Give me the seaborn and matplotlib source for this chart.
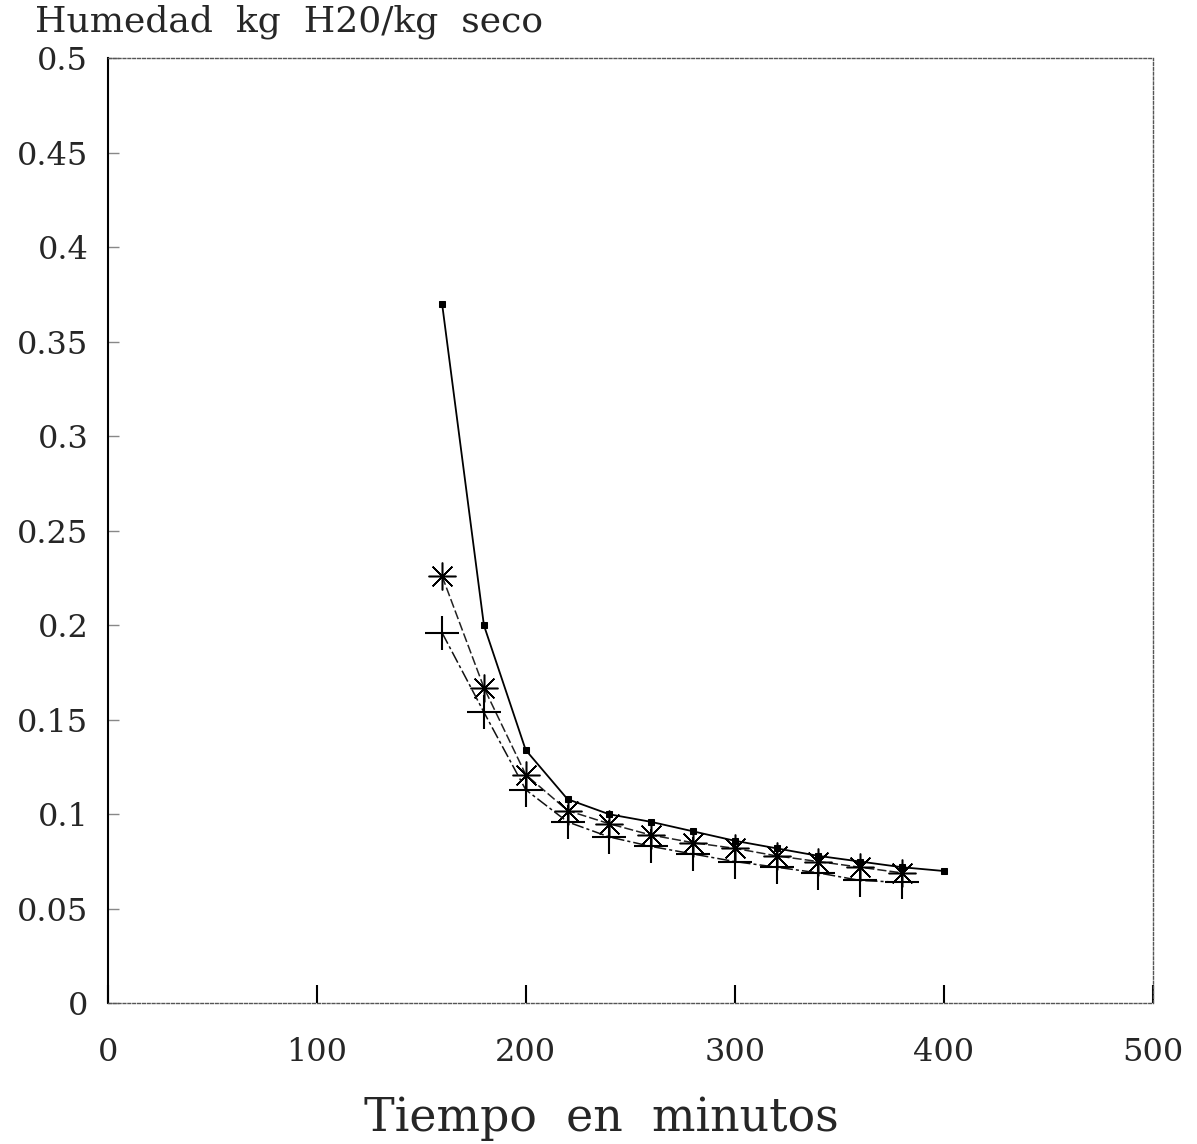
import matplotlib
matplotlib.use("Agg")
import matplotlib.pyplot as plt
import seaborn as sns

# Drying curves
tiempo_a = [160, 180, 200, 220, 240, 260, 280, 300, 320, 340, 360, 380, 400]
humedad_a = [0.370, 0.200, 0.134, 0.108, 0.100, 0.096, 0.091, 0.086, 0.082, 0.078, 0.075, 0.072, 0.070]

tiempo_b = [160, 180, 200, 220, 240, 260, 280, 300, 320, 340, 360, 380]
humedad_b = [0.226, 0.167, 0.121, 0.102, 0.095, 0.089, 0.085, 0.082, 0.078, 0.075, 0.072, 0.069]

tiempo_c = [160, 180, 200, 220, 240, 260, 280, 300, 320, 340, 360, 380]
humedad_c = [0.196, 0.154, 0.113, 0.096, 0.088, 0.083, 0.079, 0.075, 0.072, 0.069, 0.065, 0.064]

x_ticks = [0, 100, 200, 300, 400, 500]
y_ticks = [0, 0.05, 0.1, 0.15, 0.2, 0.25, 0.3, 0.35, 0.4, 0.45, 0.5]
y_ticklabels = ["0", "0.05", "0.1", "0.15", "0.2", "0.25", "0.3", "0.35", "0.4", "0.45", "0.5"]

sns.set_theme(style="white")
plt.rcParams["font.family"] = ["DejaVu Serif"]

fig = plt.figure(figsize=(11.97, 11.44), dpi=100)
ax = fig.add_axes([0.090, 0.123, 0.873, 0.826])

# square markers, solid line
sns.lineplot(x=tiempo_a, y=humedad_a, ax=ax, color="black", linewidth=1.3,
             marker="s", markersize=5, markeredgecolor="black")
# asterisks, dashed
sns.lineplot(x=tiempo_b, y=humedad_b, ax=ax, color="#222222", linewidth=1.1,
             linestyle=(0, (6, 2)), marker=(8, 2, 0), markersize=20,
             markeredgewidth=1.1, markeredgecolor="black")
# plus, dash-dot
sns.lineplot(x=tiempo_c, y=humedad_c, ax=ax, color="#111111", linewidth=1.1,
             linestyle=(0, (8, 2, 2, 2)), marker="+", markersize=24,
             markeredgewidth=1.5, markeredgecolor="black")

ax.set_xlim(0, 500)
ax.set_ylim(0, 0.5)
ax.set_xticks(x_ticks)
ax.set_yticks(y_ticks)
ax.set_yticklabels(y_ticklabels)
ax.tick_params(axis="x", bottom=True, direction="in", length=13, width=1.5,
               color="black", labelsize=23, pad=24)
ax.tick_params(axis="y", left=True, direction="in", length=8, width=1,
               color="#888888", labelsize=23, pad=14)

for side in ["top", "right", "bottom"]:
    ax.spines[side].set_linestyle((0, (2, 1.5)))
    ax.spines[side].set_linewidth(1.0)
    ax.spines[side].set_color("#555555")
ax.spines["left"].set_linewidth(1.5)
ax.spines["left"].set_color("black")

ax.set_xlabel("Tiempo  en  minutos", fontsize=33, labelpad=20)
ax.xaxis.set_label_coords(0.472, -0.098)
ax.set_ylabel("")
fig.text(0.029, 0.966, "Humedad  kg  H20/kg  seco", fontsize=26, ha="left", va="bottom")

fig.savefig("out.png", dpi=100)
